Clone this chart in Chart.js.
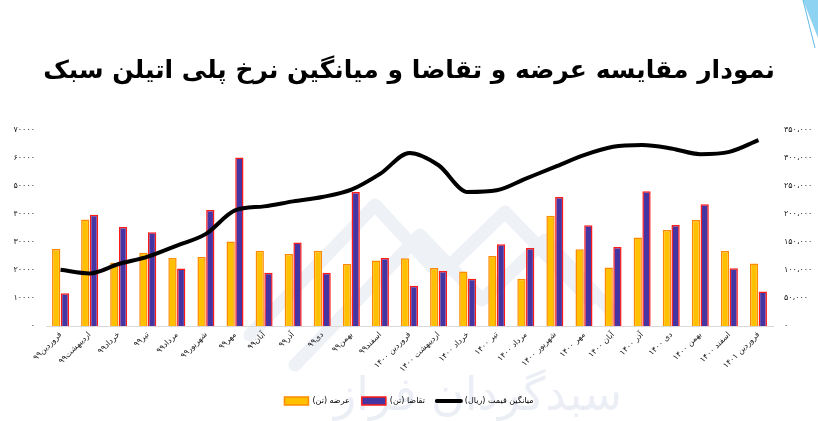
<!DOCTYPE html>
<html>
<head>
<meta charset="utf-8">
<script src="https://cdn.jsdelivr.net/npm/chart.js@4/dist/chart.umd.min.js"></script>
<style>
html,body{margin:0;padding:0;background:#fff;}
#wrap{width:818px;height:421px;position:relative;}
</style>
</head>
<body>
<div id="wrap"><canvas id="c" width="818" height="421"></canvas></div>
<script>
const categories = [
  "فروردین۹۹","اردیبهشت۹۹","خرداد۹۹","تیر۹۹","مرداد۹۹","شهریور۹۹","مهر۹۹","آبان۹۹","آذر۹۹","دی۹۹","بهمن۹۹","اسفند۹۹",
  "فروردین ۱۴۰۰","اردیبهشت ۱۴۰۰","خرداد ۱۴۰۰","تیر ۱۴۰۰","مرداد ۱۴۰۰","شهریور ۱۴۰۰","مهر ۱۴۰۰","آبان ۱۴۰۰","آذر ۱۴۰۰","دی ۱۴۰۰","بهمن ۱۴۰۰","اسفند ۱۴۰۰","فروردین ۱۴۰۱"
];
const supply = [27500,38000,22600,26200,24300,24600,30200,26900,25700,26900,22100,23400,24200,20700,19500,25000,16900,39400,27400,20900,31600,34300,37900,26800,22300];
const demand = [11700,39700,35400,33500,20500,41400,60200,19000,29800,19000,47900,24300,14400,19600,16900,29200,27900,46100,36000,28200,48100,36100,43500,20600,12300];
const avgPrice = [100500,93900,110700,123800,143600,164500,206400,213600,222500,230300,243500,272200,309000,287100,239200,242300,263200,284100,305100,320000,323000,317100,306900,311000,332000];
const leftTicks = ["۰","۱۰۰۰۰","۲۰۰۰۰","۳۰۰۰۰","۴۰۰۰۰","۵۰۰۰۰","۶۰۰۰۰","۷۰۰۰۰"];
const rightTicks = ["۰","۵۰،۰۰۰","۱۰۰،۰۰۰","۱۵۰،۰۰۰","۲۰۰،۰۰۰","۲۵۰،۰۰۰","۳۰۰،۰۰۰","۳۵۰،۰۰۰"];
const seriesNames = ["عرضه (تن)","تقاضا (تن)","میانگین قیمت (ریال)"];
const titleText = "نمودار مقایسه عرضه و تقاضا و میانگین نرخ پلی اتیلن سبک";
const watermarkText = "سبدگردان فراز";

const FONT = "'DejaVu Sans', sans-serif";

const decor = {
  id: 'decor',
  beforeDraw(chart) {
    const ctx = chart.ctx;
    ctx.save();
    // top-right triangle accent
    ctx.fillStyle = '#8fd3f2';
    ctx.beginPath();
    ctx.moveTo(803, 0); ctx.lineTo(818, 0); ctx.lineTo(818, 38); ctx.closePath();
    ctx.fill();
    ctx.strokeStyle = '#5fb8e6'; ctx.lineWidth = 1;
    ctx.beginPath(); ctx.moveTo(803,0); ctx.lineTo(815,48); ctx.stroke();
    // faint watermark logo
    ctx.strokeStyle = 'rgba(205,215,230,0.35)';
    ctx.lineWidth = 13;
    ctx.lineCap = 'round';
    ctx.lineJoin = 'round';
    ctx.beginPath();
    ctx.moveTo(250, 335); ctx.lineTo(375, 205); ctx.lineTo(440, 275); ctx.lineTo(505, 212); ctx.lineTo(590, 300);
    ctx.moveTo(295, 365); ctx.lineTo(420, 235); ctx.lineTo(482, 300); ctx.lineTo(545, 240); ctx.lineTo(615, 315);
    ctx.stroke();
    ctx.fillStyle = 'rgba(205,215,230,0.4)';
    ctx.font = "46px " + FONT;
    ctx.textAlign = 'center';
    ctx.textBaseline = 'alphabetic';
    ctx.fillText(watermarkText, 478, 410);
    ctx.restore();
  }
};

new Chart(document.getElementById('c'), {
  data: {
    labels: categories,
    datasets: [
      { type: 'bar', label: seriesNames[0], data: supply, yAxisID: 'y', order: 2,
        backgroundColor: '#FFC000', borderColor: '#FF8A00', borderWidth: 1.5,
        categoryPercentage: 0.6, barPercentage: 0.95 },
      { type: 'bar', label: seriesNames[1], data: demand, yAxisID: 'y', order: 2,
        backgroundColor: '#4535A3', borderColor: '#FF1A1A', borderWidth: 1.5,
        categoryPercentage: 0.6, barPercentage: 0.95 },
      { type: 'line', label: seriesNames[2], data: avgPrice, yAxisID: 'y1', order: 1,
        borderColor: '#000000', backgroundColor: '#000000', borderWidth: 4,
        pointRadius: 0, tension: 0.4, cubicInterpolationMode: 'monotone', fill: false }
    ]
  },
  options: {
    responsive: false,
    animation: false,
    devicePixelRatio: 1,
    layout: { padding: { left: 0, right: 0, top: 0, bottom: 6 } },
    plugins: {
      title: {
        display: true, text: titleText, color: '#000',
        font: { family: FONT, size: 25, weight: 'bold', lineHeight: 1.2 },
        padding: { top: 56, bottom: 44 }
      },
      legend: {
        position: 'bottom',
        labels: {
          font: { family: FONT, size: 8 }, color: '#222',
          usePointStyle: true, pointStyleWidth: 24, boxHeight: 8, boxWidth: 24, padding: 12,
          generateLabels(chart) {
            return chart.data.datasets.map((ds, i) => ({
              text: ds.label,
              fillStyle: ds.backgroundColor,
              strokeStyle: i === 2 ? '#000' : ds.borderColor,
              lineWidth: i === 2 ? 4 : 1.5,
              pointStyle: i === 2 ? 'line' : 'rect',
              lineCap: 'round',
              hidden: false,
              datasetIndex: i
            }));
          }
        }
      },
      tooltip: { enabled: false }
    },
    scales: {
      x: {
        grid: { display: false, drawTicks: false },
        border: { display: true, color: '#d9d9d9', width: 1 },
        ticks: { font: { family: FONT, size: 8 }, color: '#222', maxRotation: 45, minRotation: 45, autoSkip: false, padding: 4 },
        afterFit(scale) { scale.height = 59; }
      },
      y: {
        position: 'left', min: 0, max: 70000,
        grid: { display: false, drawTicks: false },
        border: { display: false },
        ticks: { stepSize: 10000, font: { family: FONT, size: 8 }, color: '#222', padding: 11,
          callback(v, i) { return leftTicks[i]; } },
        afterFit(scale) { scale.width = 46; }
      },
      y1: {
        position: 'right', min: 0, max: 350000,
        grid: { display: false, drawTicks: false },
        border: { display: false },
        ticks: { stepSize: 50000, font: { family: FONT, size: 8 }, color: '#222', padding: 11,
          callback(v, i) { return rightTicks[i]; } },
        afterFit(scale) { scale.width = 45; }
      }
    }
  },
  plugins: [decor]
});
</script>
</body>
</html>
